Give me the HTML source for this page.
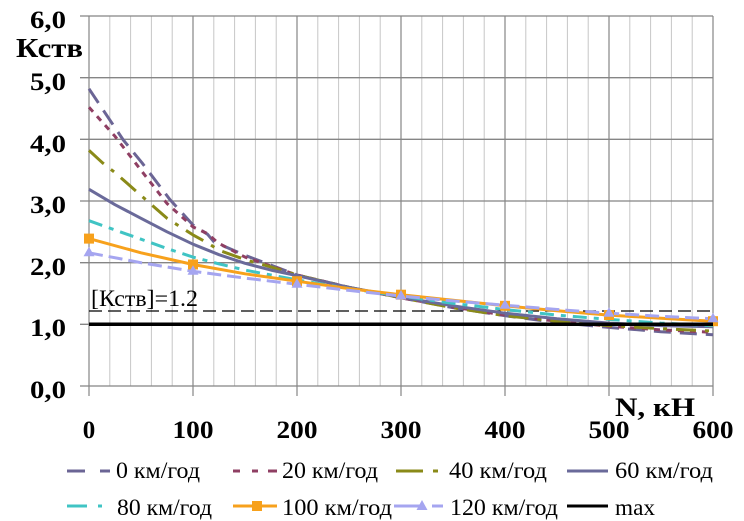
<!DOCTYPE html>
<html>
<head>
<meta charset="utf-8">
<style>
html,body{margin:0;padding:0;background:#fff;}
svg{display:block;}
text{font-family:"Liberation Serif","DejaVu Serif",serif;fill:#000;}
.b{font-weight:bold;}
</style>
</head>
<body>
<svg width="744" height="521" viewBox="0 0 744 521" xmlns="http://www.w3.org/2000/svg">
<rect width="744" height="521" fill="#fff"/>
<!-- minor vertical grid -->
<g stroke="#c6c6c6" stroke-width="1">
<line x1="109.8" y1="16" x2="109.8" y2="386"/><line x1="130.6" y1="16" x2="130.6" y2="386"/><line x1="151.4" y1="16" x2="151.4" y2="386"/><line x1="172.2" y1="16" x2="172.2" y2="386"/>
<line x1="213.8" y1="16" x2="213.8" y2="386"/><line x1="234.6" y1="16" x2="234.6" y2="386"/><line x1="255.4" y1="16" x2="255.4" y2="386"/><line x1="276.2" y1="16" x2="276.2" y2="386"/>
<line x1="317.8" y1="16" x2="317.8" y2="386"/><line x1="338.6" y1="16" x2="338.6" y2="386"/><line x1="359.4" y1="16" x2="359.4" y2="386"/><line x1="380.2" y1="16" x2="380.2" y2="386"/>
<line x1="421.8" y1="16" x2="421.8" y2="386"/><line x1="442.6" y1="16" x2="442.6" y2="386"/><line x1="463.4" y1="16" x2="463.4" y2="386"/><line x1="484.2" y1="16" x2="484.2" y2="386"/>
<line x1="525.8" y1="16" x2="525.8" y2="386"/><line x1="546.6" y1="16" x2="546.6" y2="386"/><line x1="567.4" y1="16" x2="567.4" y2="386"/><line x1="588.2" y1="16" x2="588.2" y2="386"/>
<line x1="629.8" y1="16" x2="629.8" y2="386"/><line x1="650.6" y1="16" x2="650.6" y2="386"/><line x1="671.4" y1="16" x2="671.4" y2="386"/><line x1="692.2" y1="16" x2="692.2" y2="386"/>
</g>
<!-- major vertical grid -->
<g stroke="#858585" stroke-width="1.2">
<line x1="89" y1="16" x2="89" y2="396"/><line x1="193" y1="16" x2="193" y2="396"/><line x1="297" y1="16" x2="297" y2="396"/><line x1="401" y1="16" x2="401" y2="396"/>
<line x1="505" y1="16" x2="505" y2="396"/><line x1="609" y1="16" x2="609" y2="396"/><line x1="713" y1="16" x2="713" y2="396"/>
</g>
<!-- horizontal grid -->
<g stroke="#858585" stroke-width="1.3">
<line x1="80" y1="16" x2="713" y2="16"/><line x1="80" y1="77.7" x2="713" y2="77.7"/><line x1="80" y1="139.3" x2="713" y2="139.3"/>
<line x1="80" y1="201" x2="713" y2="201"/><line x1="80" y1="262.7" x2="713" y2="262.7"/><line x1="80" y1="324.3" x2="713" y2="324.3"/><line x1="80" y1="386" x2="713" y2="386"/>
</g>
<!-- 1.2 dashed -->
<line x1="89" y1="311" x2="713" y2="311" stroke="#000" stroke-width="1.3" stroke-dasharray="13 6"/>
<!-- series -->
<g fill="none" stroke-width="3" stroke-linejoin="round">
<path stroke="#6b6595" stroke-dasharray="17 9" d="M89,88.8 L106.7,115.3 L123.3,140 L142,162.8 L170.1,199.8 L193,225 L207.6,234.3 L213.8,241.7 L245,255.3 L297,275 L349,287.3 L401,297.8 L453,307.7 L505,315.7 L557,322.5 L609,327.4 L661,331.7 L713,334.8"/>
<path stroke="#8f3f63" stroke-dasharray="6 6" d="M89,107.3 L115,136.3 L141,170.2 L167,203.5 L193,226.9 L207.6,233.7 L218,242.9 L245,257.1 L297,275 L349,287.3 L401,297.8 L453,307.1 L505,315.1 L557,321.2 L609,326.2 L661,329.9 L713,332.3"/>
<path stroke="#8a8a18" stroke-dasharray="20 9 4 9" d="M89,150.4 L102.5,162.8 L115,172.6 L141,195.5 L167,218.3 L193,234.9 L207.6,242.9 L219,250.3 L245,259.6 L271,267 L297,275 L349,287.3 L401,297.8 L453,307.7 L505,315.7 L557,321.2 L609,325.6 L661,328.6 L713,331.1"/>
<path stroke="#6a6a9a" d="M89,189.3 L115,204.7 L141,218.3 L167,231.8 L193,244.2 L219,254.7 L245,263.3 L271,270.1 L297,275.6 L349,287.3 L401,297.2 L453,305.8 L505,313.2 L557,318.8 L609,323.1 L661,325.6 L713,326.8"/>
<path stroke="#40c4c4" stroke-dasharray="14 7 5 7" d="M89,220.7 L115,230 L141,239.2 L167,248.5 L193,257.1 L219,263.9 L245,270.1 L271,275 L297,279.9 L349,288.6 L401,296 L453,303.4 L505,309.5 L557,315.1 L609,319.4 L661,323.1 L713,325.6"/>
<path stroke="#f7a11c" d="M89,238.6 L141,252.8 L193,264.5 L245,273.8 L297,281.2 L349,288.6 L401,294.7 L453,300.3 L505,305.8 L557,310.8 L609,315.1 L661,318.2 L713,321.2"/>
<path stroke="#a5a5f0" stroke-dasharray="14 6" d="M89,252.8 L141,262.7 L193,271.3 L245,278.1 L297,284.3 L349,290.4 L401,296 L453,300.9 L505,305.2 L557,309.5 L609,313.2 L661,316.3 L713,318.8"/>
</g>
<!-- markers 100 -->
<g fill="#f7a11c">
<rect x="84" y="233.6" width="10" height="10"/><rect x="188" y="259.5" width="10" height="10"/><rect x="292" y="276.2" width="10" height="10"/>
<rect x="396" y="289.7" width="10" height="10"/><rect x="500" y="300.8" width="10" height="10"/><rect x="604" y="310.1" width="10" height="10"/><rect x="708" y="316.2" width="10" height="10"/>
</g>
<!-- markers 120 -->
<g fill="#a5a5f0">
<polygon points="89,246.8 94.5,256.3 83.5,256.3"/><polygon points="193,265.3 198.5,274.8 187.5,274.8"/><polygon points="297,278.3 302.5,287.8 291.5,287.8"/>
<polygon points="401,290 406.5,299.5 395.5,299.5"/><polygon points="505,299.2 510.5,308.7 499.5,308.7"/><polygon points="609,307.2 614.5,316.7 603.5,316.7"/><polygon points="713,312.8 718.5,322.3 707.5,322.3"/>
</g>
<!-- max -->
<line x1="89" y1="324.3" x2="713" y2="324.3" stroke="#000" stroke-width="3.5"/>
<!-- y labels -->
<g class="b" font-size="25" text-anchor="end">
<text x="66" y="28" textLength="36" lengthAdjust="spacingAndGlyphs">6,0</text>
<text x="66" y="90" textLength="36" lengthAdjust="spacingAndGlyphs">5,0</text>
<text x="66" y="152" textLength="36" lengthAdjust="spacingAndGlyphs">4,0</text>
<text x="66" y="213" textLength="36" lengthAdjust="spacingAndGlyphs">3,0</text>
<text x="66" y="275" textLength="36" lengthAdjust="spacingAndGlyphs">2,0</text>
<text x="66" y="336" textLength="36" lengthAdjust="spacingAndGlyphs">1,0</text>
<text x="66" y="398" textLength="36" lengthAdjust="spacingAndGlyphs">0,0</text>
</g>
<text class="b" x="16" y="57" font-size="27" textLength="67" lengthAdjust="spacingAndGlyphs">Кств</text>
<!-- x labels -->
<g class="b" font-size="25" text-anchor="middle">
<text x="89" y="438">0</text>
<text x="193" y="438" textLength="41" lengthAdjust="spacingAndGlyphs">100</text>
<text x="297" y="438" textLength="41" lengthAdjust="spacingAndGlyphs">200</text>
<text x="401" y="438" textLength="41" lengthAdjust="spacingAndGlyphs">300</text>
<text x="505" y="438" textLength="41" lengthAdjust="spacingAndGlyphs">400</text>
<text x="609" y="438" textLength="41" lengthAdjust="spacingAndGlyphs">500</text>
<text x="713" y="438" textLength="41" lengthAdjust="spacingAndGlyphs">600</text>
</g>
<text class="b" x="615" y="416" font-size="26" textLength="80" lengthAdjust="spacingAndGlyphs">N, кН</text>
<text x="91" y="306" font-size="23" textLength="107" lengthAdjust="spacingAndGlyphs">[Кств]=1.2</text>
<!-- legend symbols -->
<g stroke-width="3">
<line x1="67" y1="471" x2="85" y2="471" stroke="#6b6595"/><line x1="100" y1="471" x2="110" y2="471" stroke="#6b6595"/>
<line x1="233" y1="471" x2="240" y2="471" stroke="#8f3f63"/><line x1="252" y1="471" x2="258" y2="471" stroke="#8f3f63"/><line x1="268" y1="471" x2="277" y2="471" stroke="#8f3f63"/>
<line x1="396" y1="471" x2="423" y2="471" stroke="#8a8a18"/><line x1="433" y1="471" x2="438" y2="471" stroke="#8a8a18"/>
<line x1="567" y1="471" x2="608" y2="471" stroke="#6a6a9a"/>
<line x1="67" y1="506" x2="87" y2="506" stroke="#40c4c4"/><line x1="98" y1="506" x2="102" y2="506" stroke="#40c4c4"/>
<line x1="233" y1="506" x2="277" y2="506" stroke="#f7a11c"/>
<line x1="394" y1="506" x2="422" y2="506" stroke="#a5a5f0"/><line x1="432" y1="506" x2="443" y2="506" stroke="#a5a5f0"/>
<line x1="567" y1="506" x2="608" y2="506" stroke="#000"/>
</g>
<rect x="252" y="501" width="10" height="10" fill="#f7a11c"/>
<polygon points="422,500 427.5,510 416.5,510" fill="#a5a5f0"/>
<!-- legend text -->
<g font-size="23">
<text x="116" y="478" textLength="84" lengthAdjust="spacingAndGlyphs">0 км/год</text>
<text x="282" y="478" textLength="96" lengthAdjust="spacingAndGlyphs">20 км/год</text>
<text x="449" y="478" textLength="98" lengthAdjust="spacingAndGlyphs">40 км/год</text>
<text x="615" y="478" textLength="98" lengthAdjust="spacingAndGlyphs">60 км/год</text>
<text x="117" y="515" textLength="95" lengthAdjust="spacingAndGlyphs">80 км/год</text>
<text x="282" y="515" textLength="110" lengthAdjust="spacingAndGlyphs">100 км/год</text>
<text x="450" y="515" textLength="108" lengthAdjust="spacingAndGlyphs">120 км/год</text>
<text x="615" y="515" textLength="40" lengthAdjust="spacingAndGlyphs">max</text>
</g>
</svg>
</body>
</html>
